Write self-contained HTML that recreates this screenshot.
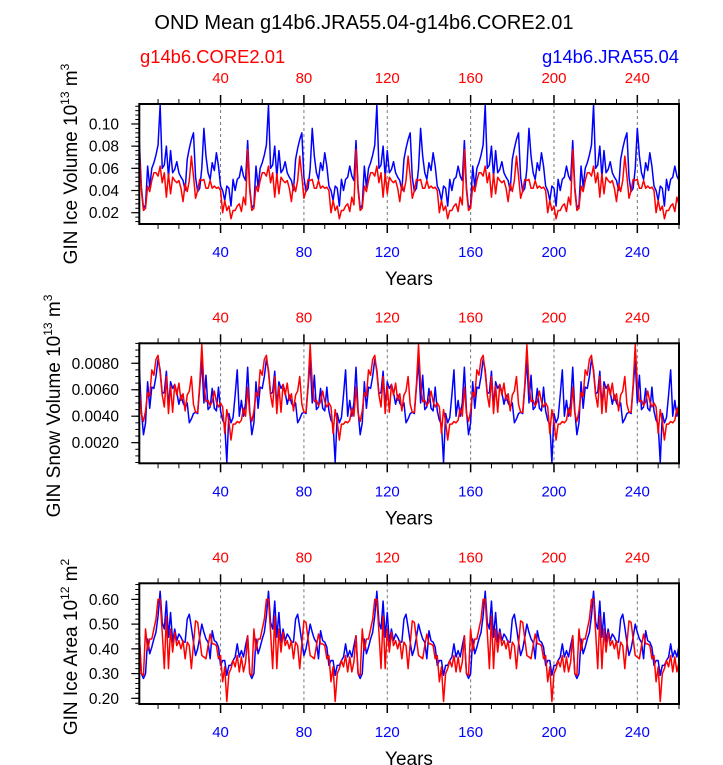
<!DOCTYPE html>
<html><head><meta charset="utf-8"><style>
html,body{margin:0;padding:0;background:#fff;}
svg{display:block;font-family:"Liberation Sans",sans-serif;}
</style></head><body>
<svg id="chart" width="723" height="765" viewBox="0 0 723 765" xmlns="http://www.w3.org/2000/svg">
<text x="364" y="29" font-size="20" text-anchor="middle">OND Mean g14b6.JRA55.04-g14b6.CORE2.01</text>
<text x="140" y="63" font-size="18.4" fill="#ff0000">g14b6.CORE2.01</text>
<text x="679" y="63" font-size="18.4" fill="#0000ff" text-anchor="end">g14b6.JRA55.04</text>
</svg>
<script>
// ---- data (52-year forcing cycles, repeated 5 times for years 1..260) ----
const years = Array.from({length:260},(_,i)=>i+1);
const xTicks = [40,80,120,160,200,240];
const iceVolTicks = [0.02,0.04,0.06,0.08,0.10];
const iceVolTickLabels = ["0.02","0.04","0.06","0.08","0.10"];
const snowTicks = [0.002,0.004,0.006,0.008];
const snowTickLabels = ["0.0020","0.0040","0.0060","0.0080"];
const areaTicks = [0.2,0.3,0.4,0.5,0.6];
const areaTickLabels = ["0.20","0.30","0.40","0.50","0.60"];

const iceVolJraCycle = [0.085,0.043,0.024,0.027,0.062,0.043,0.060,0.065,0.072,0.081,0.117,0.060,0.063,0.080,0.052,0.076,0.056,0.059,0.066,0.056,0.052,0.049,0.040,0.068,0.078,0.086,0.092,0.052,0.039,0.042,0.060,0.096,0.071,0.056,0.050,0.065,0.058,0.074,0.062,0.044,0.040,0.031,0.044,0.042,0.026,0.050,0.040,0.050,0.052,0.062,0.053,0.049];
const iceVolCoreCycle = [0.077,0.040,0.022,0.024,0.044,0.039,0.049,0.056,0.056,0.053,0.062,0.047,0.056,0.034,0.055,0.037,0.052,0.049,0.047,0.049,0.042,0.030,0.046,0.039,0.049,0.071,0.053,0.033,0.040,0.050,0.049,0.050,0.042,0.042,0.049,0.042,0.044,0.042,0.043,0.040,0.020,0.031,0.022,0.026,0.0145,0.022,0.022,0.026,0.028,0.021,0.034,0.027];
const snowJraCycle = [0.0077,0.0044,0.0026,0.0035,0.0066,0.0046,0.0062,0.0061,0.0070,0.0083,0.0075,0.0057,0.0058,0.0074,0.0047,0.0066,0.0061,0.0064,0.0058,0.0049,0.0056,0.0050,0.0047,0.0050,0.0035,0.0038,0.0042,0.0043,0.0042,0.0062,0.0082,0.0050,0.0071,0.0045,0.0047,0.0061,0.0046,0.0044,0.0062,0.0044,0.0037,0.0034,0.0005,0.0042,0.0035,0.0039,0.0056,0.0075,0.0040,0.0052,0.0040,0.0050];
const snowCoreCycle = [0.0062,0.0042,0.0036,0.0044,0.0058,0.0055,0.0075,0.0071,0.0083,0.0086,0.0073,0.0056,0.0047,0.0070,0.0042,0.0063,0.0043,0.0064,0.0056,0.0065,0.0052,0.0057,0.0044,0.0056,0.0059,0.0070,0.0049,0.0043,0.0043,0.0064,0.0094,0.0064,0.0051,0.0052,0.0048,0.0051,0.0059,0.0051,0.0047,0.0050,0.0047,0.0027,0.0045,0.0036,0.0022,0.0034,0.0034,0.0036,0.0035,0.0037,0.0046,0.0040];
const areaJraCycle = [0.453,0.30,0.28,0.30,0.44,0.38,0.407,0.44,0.467,0.533,0.633,0.507,0.48,0.593,0.447,0.547,0.427,0.48,0.433,0.46,0.447,0.427,0.427,0.52,0.54,0.487,0.427,0.373,0.40,0.447,0.50,0.467,0.44,0.427,0.36,0.473,0.433,0.427,0.407,0.333,0.353,0.353,0.293,0.333,0.333,0.353,0.367,0.42,0.367,0.393,0.367,0.413];
const areaCoreCycle = [0.453,0.30,0.293,0.48,0.393,0.44,0.44,0.48,0.52,0.60,0.60,0.467,0.32,0.533,0.32,0.48,0.387,0.467,0.413,0.433,0.40,0.433,0.36,0.427,0.413,0.32,0.42,0.513,0.507,0.44,0.373,0.367,0.36,0.413,0.46,0.42,0.42,0.413,0.36,0.373,0.267,0.327,0.187,0.30,0.32,0.353,0.327,0.373,0.307,0.367,0.307,0.347];

const iceVolJra = [].concat(iceVolJraCycle,iceVolJraCycle,iceVolJraCycle,iceVolJraCycle,iceVolJraCycle);
const iceVolCore = [].concat(iceVolCoreCycle,iceVolCoreCycle,iceVolCoreCycle,iceVolCoreCycle,iceVolCoreCycle);
const snowJra = [].concat(snowJraCycle,snowJraCycle,snowJraCycle,snowJraCycle,snowJraCycle);
const snowCore = [].concat(snowCoreCycle,snowCoreCycle,snowCoreCycle,snowCoreCycle,snowCoreCycle);
const areaJra = [].concat(areaJraCycle,areaJraCycle,areaJraCycle,areaJraCycle,areaJraCycle);
const areaCore = [].concat(areaCoreCycle,areaCoreCycle,areaCoreCycle,areaCoreCycle,areaCoreCycle);

const NS="http://www.w3.org/2000/svg";
const svg=document.getElementById('chart');
function mk(tag,attrs,parent){const e=document.createElementNS(NS,tag);for(const k in attrs)e.setAttribute(k,attrs[k]);(parent||svg).appendChild(e);return e;}

const X0=139.3,X1=679;
const xMin=1,xMax=260;
function xs(v){return X0+(v-xMin)/(xMax-xMin)*(X1-X0);}

const panels=[
 {key:'ice-volume',top:104,bot:224,yMin:0.0098,yMax:0.118,ticks:iceVolTicks,labels:iceVolTickLabels,minor:0.004,blue:iceVolJra,red:iceVolCore,title:['GIN Ice Volume 10','13',' m','3'],tcx:77,tcy:164},
 {key:'snow-volume',top:343.3,bot:463.3,yMin:0.00044,yMax:0.00951,ticks:snowTicks,labels:snowTickLabels,minor:0.0005,blue:snowJra,red:snowCore,title:['GIN Snow Volume 10','13',' m','3'],tcx:60,tcy:406},
 {key:'ice-area',top:583.3,bot:704,yMin:0.177,yMax:0.665,ticks:areaTicks,labels:areaTickLabels,minor:0.02,blue:areaJra,red:areaCore,title:['GIN Ice Area 10','12',' m','2'],tcx:77,tcy:647}
];

panels.forEach(p=>{
  const g=mk('g',{});
  
  
  const ys=v=>p.bot-(v-p.yMin)/(p.yMax-p.yMin)*(p.bot-p.top);
  xTicks.forEach(t=>{
    const l=mk('line',{x1:xs(t),x2:xs(t),y1:p.top,y2:p.bot,stroke:'#777','stroke-width':1,'stroke-dasharray':'3,3'},g);
    
    
  });
  for(let t=10;t<=260;t+=10){
    const major=t%40===0;const len=major?9:5;const x=xs(t);
    mk('line',{x1:x,x2:x,y1:p.top,y2:p.top-len,stroke:'#000','stroke-width':major?1.5:1},g);
    mk('line',{x1:x,x2:x,y1:p.bot,y2:p.bot+len,stroke:'#000','stroke-width':major?1.5:1},g);
  }
  const mstart=Math.ceil(p.yMin/p.minor);
  for(let k=mstart;k*p.minor<=p.yMax;k++){
    const y=ys(k*p.minor);
    mk('line',{x1:X0,x2:X0-4,y1:y,y2:y,stroke:'#000','stroke-width':1},g);
  }
  p.ticks.forEach((t,i)=>{
    const y=ys(t);
    mk('line',{x1:X0,x2:X0-8,y1:y,y2:y,stroke:'#000','stroke-width':1.2},g);
    const tx=mk('text',{x:119,y:y+5.5,'font-size':15.5,'text-anchor':'end'},g);
    tx.textContent=p.labels[i];
    
    
  });
  xTicks.forEach(t=>{
    const a=mk('text',{x:xs(t),y:p.top-21,'font-size':15,'text-anchor':'middle',fill:'#ff0000'},g);
    a.textContent=t;
    
    
    const b=mk('text',{x:xs(t),y:p.bot+33,'font-size':15,'text-anchor':'middle',fill:'#0000ff'},g);
    b.textContent=t;
    
    
  });
  const xt=mk('text',{x:409,y:p.bot+61,'font-size':19,'text-anchor':'middle'},g);
  xt.textContent='Years';
  
  
  const yt=mk('text',{x:0,y:0,'font-size':19,'text-anchor':'middle',transform:`translate(${p.tcx},${p.tcy}) rotate(-90)`},g);
  
  
  const s1=mk('tspan',{},yt);s1.textContent=p.title[0];
  const s2=mk('tspan',{dy:-8,'font-size':12},yt);s2.textContent=p.title[1];
  const s3=mk('tspan',{dy:8},yt);s3.textContent=p.title[2];
  const s4=mk('tspan',{dy:-8,'font-size':12},yt);s4.textContent=p.title[3];
  const cp='clip-'+p.key;
  const cl=mk('clipPath',{id:cp},g);
  mk('rect',{x:X0,y:p.top,width:X1-X0,height:p.bot-p.top},cl);
  const path=arr=>arr.map((v,i)=>(i?'L':'M')+xs(years[i]).toFixed(2)+','+ys(v).toFixed(2)).join('');
  const bl=mk('path',{d:path(p.blue),fill:'none',stroke:'#0000ff','stroke-width':1.5,'stroke-linejoin':'round','clip-path':`url(#${cp})`},g);
  
  
  const rl=mk('path',{d:path(p.red),fill:'none',stroke:'#ff0000','stroke-width':1.5,'stroke-linejoin':'round','clip-path':`url(#${cp})`},g);
  
  
  const fr=mk('rect',{x:X0,y:p.top,width:X1-X0,height:p.bot-p.top,fill:'none',stroke:'#000','stroke-width':2},g);
  
  
});
</script>
</body></html>
